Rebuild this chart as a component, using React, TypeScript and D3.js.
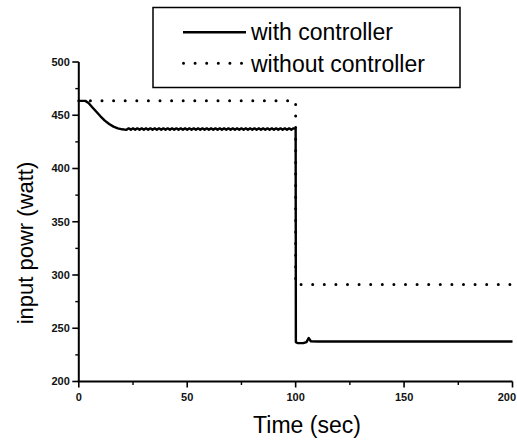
import React from "react";
import * as d3 from "d3";

// Input power with controller (solid line)
const controlledTime = [
  0, 3, 4.5, 6, 8, 10, 12, 14, 16, 18, 20, 22,
  23, 24, 25, 26, 27, 28, 29, 30, 31, 32, 33, 34, 35, 36, 37, 38, 39, 40,
  41, 42, 43, 44, 45, 46, 47, 48, 49, 50, 51, 52, 53, 54, 55, 56, 57, 58, 59, 60,
  61, 62, 63, 64, 65, 66, 67, 68, 69, 70, 71, 72, 73, 74, 75, 76, 77, 78, 79, 80,
  81, 82, 83, 84, 85, 86, 87, 88, 89, 90, 91, 92, 93, 94, 95, 96, 97, 98, 99, 100,
  100.1, 100.8, 103.5, 105, 106, 107, 110, 200,
];
const controlledPower = [
  463.5, 463.5, 461.5, 458, 453.5, 449, 445, 441.8, 439.3, 437.7, 436.8, 436.3,
  437.7, 436.3, 437.7, 436.3, 437.7, 436.3, 437.7, 436.3, 437.7, 436.3, 437.7, 436.3, 437.7, 436.3, 437.7, 436.3, 437.7, 436.3,
  437.7, 436.3, 437.7, 436.3, 437.7, 436.3, 437.7, 436.3, 437.7, 436.3, 437.7, 436.3, 437.7, 436.3, 437.7, 436.3, 437.7, 436.3, 437.7, 436.3,
  437.7, 436.3, 437.7, 436.3, 437.7, 436.3, 437.7, 436.3, 437.7, 436.3, 437.7, 436.3, 437.7, 436.3, 437.7, 436.3, 437.7, 436.3, 437.7, 436.3,
  437.7, 436.3, 437.7, 436.3, 437.7, 436.3, 437.7, 436.3, 437.7, 436.3, 437.7, 436.3, 437.7, 436.3, 437.7, 436.3, 437.7, 436.3, 437.7, 437.2,
  237, 236.2, 236.0, 237, 240.8, 237.8, 237.5, 237.5,
];

// Input power without controller (dotted line)
const uncontrolledTime = [0, 100, 100, 200];
const uncontrolledPower = [463.5, 463.5, 291, 291];

const xMajorTicks = [0, 50, 100, 150, 200];
const xMinorTicks = [25, 75, 125, 175];
const yMajorTicks = [200, 250, 300, 350, 400, 450, 500];
const yMinorTicks = [225, 275, 325, 375, 425, 475];

const seriesNames = ["with controller", "without controller"];

const FONT = "'Liberation Sans', Arial, Helvetica, sans-serif";
const W = 517;
const H = 443;

export default function App() {
  const x = d3.scaleLinear().domain([0, 200]).range([78.8, 512.5]);
  const y = d3.scaleLinear().domain([200, 500]).range([381.5, 62]);

  const line = d3
    .line<[number, number]>()
    .x((d) => x(d[0]))
    .y((d) => y(d[1]));

  const controlled = controlledTime.map((t, i) => [t, controlledPower[i]] as [number, number]);
  const uncontrolled = uncontrolledTime.map((t, i) => [t, uncontrolledPower[i]] as [number, number]);

  const dotted = { strokeDasharray: "0 11.6", strokeLinecap: "round" as const };

  return (
    <svg
      width={W}
      height={H}
      viewBox={`0 0 ${W} ${H}`}
      style={{ position: "absolute", left: 0, top: 0, background: "#fff" }}
      fontFamily={FONT}
    >
      <rect x={0} y={0} width={W} height={H} fill="#fff" />

      {/* series */}
      <path d={line(uncontrolled) ?? ""} fill="none" stroke="#000" strokeWidth={3} {...dotted} />
      <path d={line(controlled) ?? ""} fill="none" stroke="#000" strokeWidth={2.4} strokeLinejoin="round" />

      {/* y axis */}
      <line x1={x(0)} x2={x(0)} y1={y(500)} y2={y(200)} stroke="#000" strokeWidth={2} />
      {yMajorTicks.map((v) => (
        <g key={`ym${v}`}>
          <line x1={x(0) - 6.5} x2={x(0)} y1={y(v)} y2={y(v)} stroke="#000" strokeWidth={1.6} />
          <text x={x(0) - 9} y={y(v) + 3.8} textAnchor="end" fontSize={11} fontWeight="bold" fill="#111">
            {v}
          </text>
        </g>
      ))}
      {yMinorTicks.map((v) => (
        <line key={`yn${v}`} x1={x(0) - 3.5} x2={x(0)} y1={y(v)} y2={y(v)} stroke="#000" strokeWidth={1.4} />
      ))}

      {/* x axis */}
      <line x1={x(0) - 1} x2={x(200)} y1={y(200)} y2={y(200)} stroke="#000" strokeWidth={2} />
      {xMajorTicks.map((v, i) => {
        const last = i === xMajorTicks.length - 1;
        return (
          <g key={`xm${v}`}>
            <line x1={x(v)} x2={x(v)} y1={y(200)} y2={y(200) + 6} stroke="#000" strokeWidth={1.6} />
            <text
              x={last ? W - 1 : x(v)}
              y={y(200) + 19.5}
              textAnchor={last ? "end" : "middle"}
              fontSize={11}
              fontWeight="bold"
              fill="#111"
            >
              {v}
            </text>
          </g>
        );
      })}
      {xMinorTicks.map((v) => (
        <line key={`xn${v}`} x1={x(v)} x2={x(v)} y1={y(200)} y2={y(200) + 3.5} stroke="#000" strokeWidth={1.4} />
      ))}

      {/* axis titles */}
      <text x={307} y={433} textAnchor="middle" fontSize={23} fill="#000">
        Time (sec)
      </text>
      <text transform="translate(33,243) rotate(-90)" textAnchor="middle" fontSize={22} fill="#000">
        input powr (watt)
      </text>

      {/* legend */}
      <rect x={153} y={7.5} width={307} height={80} fill="#fff" stroke="#000" strokeWidth={1.5} />
      <line x1={183} x2={246} y1={32.3} y2={32.3} stroke="#000" strokeWidth={2.4} />
      <text x={251} y={39.5} fontSize={23} fill="#000">
        {seriesNames[0]}
      </text>
      <line x1={183.5} x2={242} y1={63.3} y2={63.3} stroke="#000" strokeWidth={3} {...dotted} />
      <text x={251} y={71.5} fontSize={23} fill="#000">
        {seriesNames[1]}
      </text>
    </svg>
  );
}
